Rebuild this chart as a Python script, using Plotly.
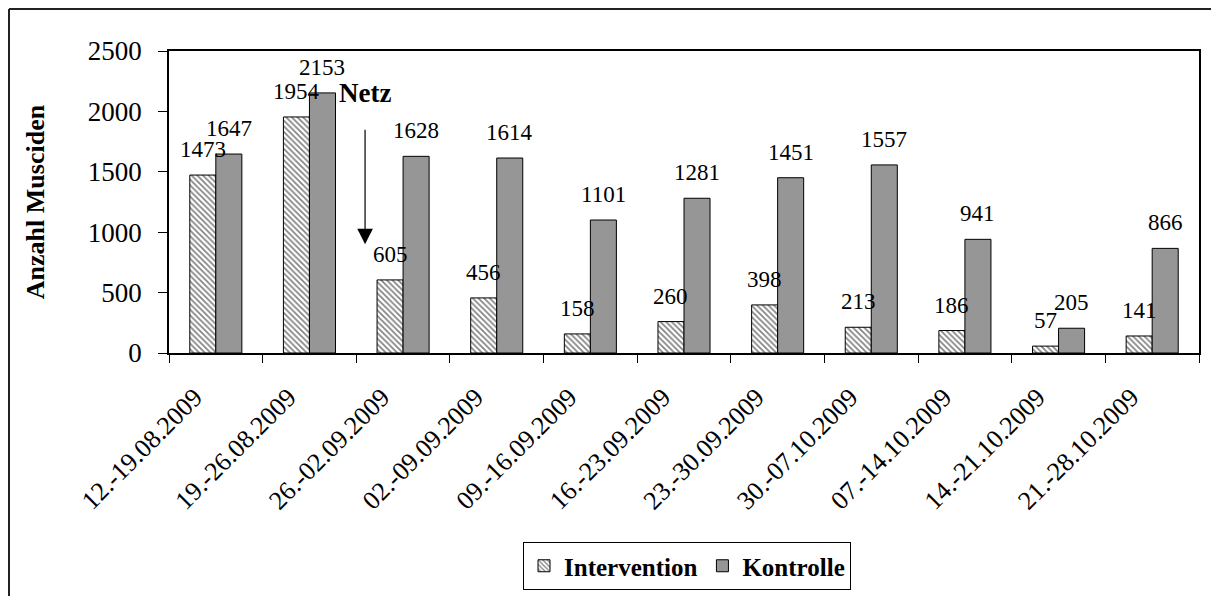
import plotly.graph_objects as go

categories = ["12.-19.08.2009", "19.-26.08.2009", "26.-02.09.2009", "02.-09.09.2009",
              "09.-16.09.2009", "16.-23.09.2009", "23.-30.09.2009", "30.-07.10.2009",
              "07.-14.10.2009", "14.-21.10.2009", "21.-28.10.2009"]
intervention = [1473, 1954, 605, 456, 158, 260, 398, 213, 186, 57, 141]
kontrolle = [1647, 2153, 1628, 1614, 1101, 1281, 1451, 1557, 941, 205, 866]
y_ticks = [0, 500, 1000, 1500, 2000, 2500]

FONT = "Liberation Serif"
GRAY = "#969696"
BARGAP = 0.444

# plot area in pixels (for paper-coordinate conversions of decorations)
L, R, T, B = 169, 1199, 51, 353
W, H = 1211, 596
PW, PH = R - L, B - T

def px_to_paper_x(px):
    return (px - L) / PW

def px_to_paper_y(py):
    return (B - py) / PH

fig = go.Figure()
fig.add_trace(go.Bar(
    x=categories, y=intervention, name="Intervention",
    marker=dict(color="white", line=dict(color="black", width=1),
                pattern=dict(shape="\\", fgcolor="black", bgcolor="white", size=4, solidity=0.4)),
))
fig.add_trace(go.Bar(
    x=categories, y=kontrolle, name="Kontrolle",
    marker=dict(color=GRAY, line=dict(color="black", width=1)),
))

# value labels above each bar
half = (1 - BARGAP) / 4
annotations = []
for i, (vi, vk) in enumerate(zip(intervention, kontrolle)):
    for xpos, v in ((i - half, vi), (i + half, vk)):
        annotations.append(dict(
            x=xpos, y=v, xref="x", yref="y", text=str(v), showarrow=False,
            yanchor="bottom", xanchor="center", yshift=11,
            font=dict(family=FONT, size=23, color="black")))

# "Netz" marker with arrow
annotations.append(dict(x=1.594, y=900, xref="x", yref="y", ax=0, ay=-116,
                        text="", showarrow=True, arrowhead=2, arrowsize=2.6,
                        arrowwidth=1.2, arrowcolor="black"))
annotations.append(dict(x=1.594, y=2155, xref="x", yref="y", text="<b>Netz</b>",
                        showarrow=False, font=dict(family=FONT, size=27, color="black")))

shapes = [
    dict(type="line", xref="paper", yref="paper",
         x0=px_to_paper_x(9), x1=px_to_paper_x(W + 100),
         y0=px_to_paper_y(9), y1=px_to_paper_y(9),
         line=dict(color="#222", width=2)),
    dict(type="line", xref="paper", yref="paper",
         x0=px_to_paper_x(9), x1=px_to_paper_x(9),
         y0=px_to_paper_y(9), y1=px_to_paper_y(H + 100),
         line=dict(color="#222", width=2)),
]

fig.update_layout(
    width=W, height=H,
    margin=dict(l=L, r=W - R, t=T, b=H - B, autoexpand=False),
    paper_bgcolor="white", plot_bgcolor="white",
    barmode="group", bargap=BARGAP, bargroupgap=0,
    font=dict(family=FONT, size=26, color="black"),
    showlegend=True,
    legend=dict(orientation="h", x=px_to_paper_x(687), xanchor="center",
                y=px_to_paper_y(542), yanchor="top",
                bordercolor="black", borderwidth=1,
                font=dict(family=FONT, size=25, color="black", weight="bold"),
                itemwidth=30, traceorder="normal"),
    annotations=annotations,
    shapes=shapes,
)
fig.update_xaxes(type="category", tickson="boundaries", ticks="outside", ticklen=8,
                 tickcolor="black", tickangle=-45, showline=True, mirror=True,
                 linecolor="black", linewidth=1.5, showgrid=False, automargin=False,
                 tickfont=dict(family=FONT, size=26), ticklabelstandoff=17,
                 ticklabelshift=-21)
fig.update_yaxes(range=[0, 2500], tickvals=y_ticks, ticks="outside", ticklen=9,
                 tickcolor="black", showline=True, mirror=True, linecolor="black",
                 linewidth=1.5, showgrid=False, zeroline=False, automargin=False,
                 tickfont=dict(family=FONT, size=27), ticklabelstandoff=11,
                 title=dict(text="<b>Anzahl Musciden</b>", font=dict(family=FONT, size=26),
                            standoff=36))

fig.write_html("out.html")
